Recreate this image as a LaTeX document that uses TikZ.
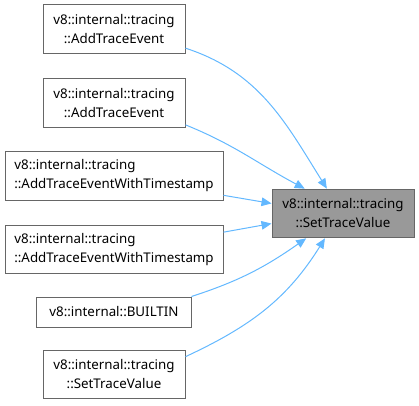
\documentclass[tikz,border=0pt]{standalone}
\usepackage{fontspec}
\newfontfamily\doxfont{Noto Sans}
\usepackage{xcolor}
\usetikzlibrary{arrows.meta}

\definecolor{edgeblue}{HTML}{63B8FF}
\definecolor{boxline}{HTML}{666666}
\definecolor{hlfill}{HTML}{999999}

\begin{document}
\begin{tikzpicture}[
    x=0.75pt, y=-0.75pt,
    fn/.style={rectangle, draw=boxline, fill=white, line width=0.75pt, minimum width=106.5pt, minimum height=36.5pt, inner sep=0pt, align=center, font=\doxfont\fontsize{10}{14.25}\selectfont},
    wide/.style={fn, minimum width=163.5pt, align=left},
    here/.style={fn, fill=hlfill},
    edge/.style={-{Triangle[length=7.5pt,width=6.5pt,fill=edgeblue]}, draw=edgeblue, line width=0.75pt}
]
\useasboundingbox (0,0) rectangle (419,405);

\node[here] (setval) at (343,213.5) {v8::internal::tracing\\::SetTraceValue};

\node[fn] (add1) at (114,29) {v8::internal::tracing\\::AddTraceEvent};
\node[fn] (add2) at (114,103) {v8::internal::tracing\\::AddTraceEvent};
\node[wide] (ts1) at (114,176) {v8::internal::tracing\\::AddTraceEventWithTimestamp};
\node[wide] (ts2) at (114,249.5) {v8::internal::tracing\\::AddTraceEventWithTimestamp};
\node[fn, minimum width=115.5pt, minimum height=22.5pt] (builtin) at (114,312) {v8::internal::BUILTIN};
\node[fn] (setval2) at (114,374.5) {v8::internal::tracing\\::SetTraceValue};

% callers -> SetTraceValue
\draw[edge] (add1.-15) to[out=-18, in=122] (setval.123);
\draw[edge] (add2.-17) to[out=-22, in=152] (setval.147);
\draw[edge] (ts1.-10) -- (setval.172);
\draw[edge] (ts2.9) -- (setval.188);
\draw[edge] (builtin.north east) to[out=18, in=215] (setval.214);
\draw[edge] (setval2.14) to[out=25, in=238] (setval.234);
\end{tikzpicture}
\end{document}
